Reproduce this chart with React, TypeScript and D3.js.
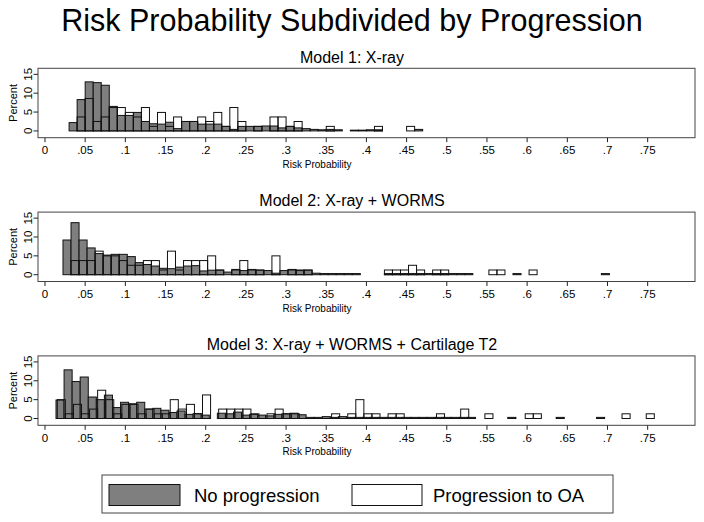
import React from "react";
import * as d3 from "d3";

// ---------- data ----------
const panelTitles = [
  "Model 1: X-ray",
  "Model 2: X-ray + WORMS",
  "Model 3: X-ray + WORMS + Cartilage T2",
];
const seriesNames = ["No progression", "Progression to OA"];

// bin starts / widths (risk probability)
const noProgStart = [0.03, 0.0224, 0.0137];
const progStart = [0.03, 0.0224, 0.0153];
const binWidth = [0.01, 0.01, 0.01004];

// percent per bin, No progression
const noProg1 = [2.2, 8.3, 13.0, 12.8, 12.1, 6.5, 4.1, 4.1, 4.9, 2.5, 1.9, 1.8, 2.3, 0.6, 2.5, 2.5, 1.8, 1.8, 1.8, 1.2, 0.4, 1.2, 1.2, 1.2, 1.3, 1.3, 0.8, 1.2, 0.8, 0.6, 0.4, 0.3, 0.4, 0.3, 0, 0.2, 0.2, 0.3, 0.3, 0, 0, 0, 0, 0.4];
const noProg2 = [9.2, 13.8, 9.2, 7.1, 5.6, 5.2, 5.4, 5.4, 4.8, 3.2, 2.7, 2.3, 1.7, 1.6, 2.0, 2.3, 2.4, 1.0, 1.2, 1.2, 0.7, 1.4, 1.1, 1.4, 1.2, 1.1, 0.4, 1.1, 1.4, 1.1, 1.2, 0.4, 0.3, 0.3, 0.3, 0.3, 0.3, 0, 0, 0, 0.3, 0.3, 0.3, 0.3, 0.3, 0.3, 0.3, 0.3, 0.3, 0.3, 0.3, 0, 0, 0, 0, 0, 0.3, 0, 0, 0, 0, 0, 0, 0, 0, 0, 0, 0.3];
const noProg3 = [4.9, 12.9, 9.8, 11.0, 5.7, 5.0, 6.2, 2.9, 4.3, 3.9, 4.3, 2.5, 2.7, 2.2, 1.6, 2.0, 1.1, 1.3, 0.9, 0, 1.4, 1.25, 1.7, 0.9, 1.1, 0.9, 0.7, 1.1, 1.25, 1.4, 1.0, 0.3, 0.3, 0.5, 0.3, 0.5, 0.3, 0.3, 0.3, 0.3, 0.3, 0.3, 0.3, 0.3, 0.3, 0.3, 0.3, 0.3, 0.3, 0.3, 0.3, 0.3, 0, 0, 0, 0, 0.3, 0, 0, 0, 0, 0, 0.3, 0, 0, 0, 0, 0.3];

// percent per bin, Progression to OA
const prog1 = [0, 3.7, 8.6, 2.5, 3.7, 6.2, 6.2, 4.9, 3.7, 6.2, 1.2, 4.9, 1.2, 3.7, 2.5, 2.5, 3.7, 2.5, 4.9, 1.2, 6.2, 2.5, 0, 1.2, 0, 3.7, 3.7, 1.2, 2.5, 0, 0, 0, 1.2, 0, 0, 0, 0, 0, 1.2, 0, 0, 0, 1.2];
const prog2 = [0, 3.75, 3.75, 3.75, 6.25, 5.0, 5.0, 3.75, 2.5, 2.5, 3.75, 3.75, 1.25, 6.25, 1.25, 3.75, 3.75, 3.75, 5.0, 1.25, 0, 1.25, 3.75, 1.25, 1.25, 0, 5.0, 0, 1.25, 1.25, 1.25, 0, 0, 0, 0, 0, 0, 0, 0, 0, 1.25, 1.25, 1.25, 2.5, 1.25, 0, 1.25, 1.25, 0, 0, 0, 0, 0, 1.25, 1.25, 0, 0, 0, 1.25];
const prog3 = [5.0, 1.25, 3.75, 1.25, 2.5, 7.5, 5.0, 1.25, 3.75, 3.75, 1.25, 2.5, 1.25, 1.25, 5.0, 2.5, 3.75, 1.25, 6.25, 0, 2.5, 2.5, 2.5, 2.5, 1.25, 0, 1.25, 2.5, 1.25, 1.25, 0, 0, 0, 0, 1.25, 0, 1.25, 5.0, 1.25, 1.25, 0, 1.25, 1.25, 0, 0, 0, 0, 1.25, 0, 0, 2.5, 0, 0, 1.25, 0, 0, 0, 0, 1.25, 1.25, 0, 0, 0, 0, 0, 0, 0, 0, 0, 0, 1.25, 0, 0, 1.25];

const xTickValues = [0, 0.05, 0.1, 0.15, 0.2, 0.25, 0.3, 0.35, 0.4, 0.45, 0.5, 0.55, 0.6, 0.65, 0.7, 0.75];
const xTickLabels = ["0", ".05", ".1", ".15", ".2", ".25", ".3", ".35", ".4", ".45", ".5", ".55", ".6", ".65", ".7", ".75"];
const yTickValues = [0, 5, 10, 15];
const yTickLabels = ["0", "5", "10", "15"];

const noProgAll = [noProg1, noProg2, noProg3];
const progAll = [prog1, prog2, prog3];

// ---------- layout ----------
const W = 704;
const H = 522;
const FONT = "'Liberation Sans', Arial, Helvetica, sans-serif";
const boxLeft = 38;
const boxRight = 695;
const panelTop0 = 68.3;
const panelStep = 143.8;
const panelH = 69.4;
const GRAY = "#7f7f7f";

const x = d3.scaleLinear().domain([-0.0087, 0.8089]).range([boxLeft, boxRight]);

function Bars({ values, start, width, y, fill }: any) {
  return (
    <g>
      {values.map((v: number, i: number) => {
        if (!v) return null;
        const x0 = x(start + i * width);
        const x1 = x(start + (i + 1) * width);
        return (
          <rect
            key={i}
            x={x0}
            y={y(v)}
            width={x1 - x0}
            height={y(0) - y(v)}
            fill={fill}
            stroke="#111"
            strokeWidth={1}
          />
        );
      })}
    </g>
  );
}

function Panel({ idx }: { idx: number }) {
  const top = panelTop0 + idx * panelStep;
  const bottom = top + panelH;
  const y = d3.scaleLinear().domain([-1.8, 16.6]).range([bottom, top]);
  return (
    <g>
      <text x={W / 2} y={top - 5.8} textAnchor="middle" fontSize={16} fontFamily={FONT}>
        {panelTitles[idx]}
      </text>
      <rect x={boxLeft} y={top} width={boxRight - boxLeft} height={panelH} fill="#fff" stroke="#444" strokeWidth={1} />
      <Bars values={noProgAll[idx]} start={noProgStart[idx]} width={binWidth[idx]} y={y} fill={GRAY} />
      <Bars values={progAll[idx]} start={progStart[idx]} width={binWidth[idx]} y={y} fill="none" />
      {yTickValues.map((t, i) => (
        <g key={t}>
          <line x1={boxLeft - 4.5} x2={boxLeft} y1={y(t)} y2={y(t)} stroke="#222" />
          <text
            transform={`translate(${boxLeft - 6},${y(t)}) rotate(-90)`}
            textAnchor="middle"
            fontSize={11.5}
            fontFamily={FONT}
          >
            {yTickLabels[i]}
          </text>
        </g>
      ))}
      <text
        transform={`translate(16.5,${(top + bottom) / 2}) rotate(-90)`}
        textAnchor="middle"
        fontSize={11}
        fontFamily={FONT}
      >
        Percent
      </text>
      {xTickValues.map((t, i) => (
        <g key={t}>
          <line x1={x(t)} x2={x(t)} y1={bottom} y2={bottom + 4.5} stroke="#222" />
          <text x={x(t)} y={bottom + 16.3} textAnchor="middle" fontSize={11.5} fontFamily={FONT}>
            {xTickLabels[i]}
          </text>
        </g>
      ))}
      <text x={317} y={bottom + 30} textAnchor="middle" fontSize={10} fontFamily={FONT}>
        Risk Probability
      </text>
    </g>
  );
}

export default function App() {
  return (
    <svg
      width={W}
      height={H}
      style={{ position: "absolute", left: 0, top: 0, background: "#fff" }}
    >
      <rect x={0} y={0} width={W} height={H} fill="#fff" />
      <text x={W / 2} y={31} textAnchor="middle" fontSize={30.5} fontFamily={FONT}>
        Risk Probability Subdivided by Progression
      </text>
      {[0, 1, 2].map((i) => (
        <Panel key={i} idx={i} />
      ))}
      <g>
        <rect x={102} y={475} width={511} height={38} fill="#fff" stroke="#444" strokeWidth={1} />
        <rect x={109} y={484.5} width={71} height={21} fill={GRAY} stroke="#111" strokeWidth={1} />
        <text x={194} y={501.5} fontSize={18.5} fontFamily={FONT}>
          {seriesNames[0]}
        </text>
        <rect x={352} y={484.5} width={70} height={21} fill="#fff" stroke="#111" strokeWidth={1} />
        <text x={433} y={501.5} fontSize={18.5} fontFamily={FONT}>
          {seriesNames[1]}
        </text>
      </g>
    </svg>
  );
}
